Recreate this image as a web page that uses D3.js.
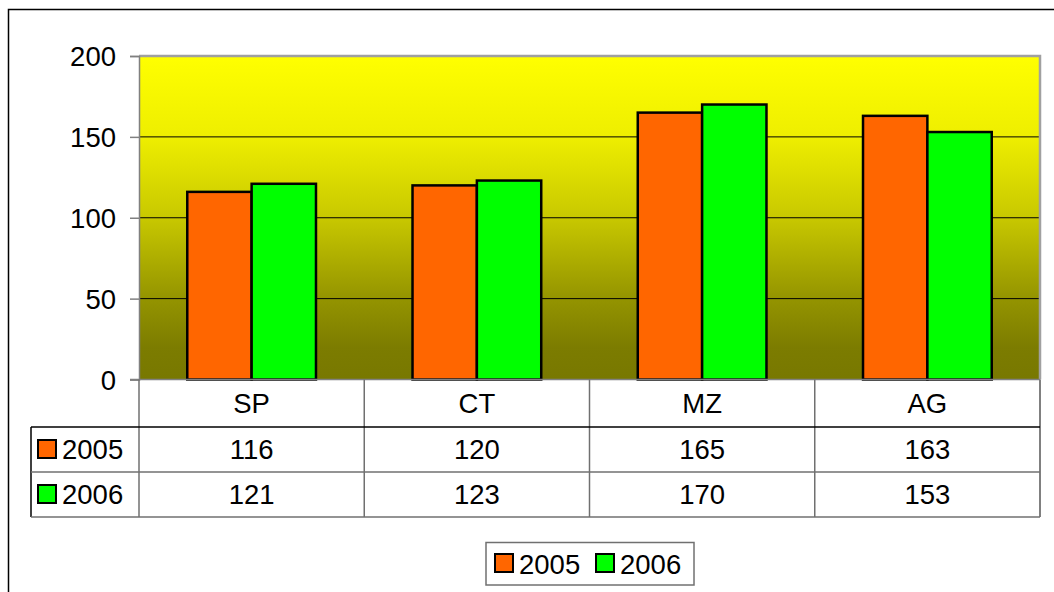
<!DOCTYPE html>
<html><head><meta charset="utf-8">
<script src="https://cdn.jsdelivr.net/npm/d3@7"></script>
<style>
html,body{margin:0;padding:0;background:#fff;overflow:hidden}
text{font-family:"Liberation Sans",Arial,sans-serif;fill:#000}
</style></head>
<body>
<svg id="chart" width="1054" height="592"></svg>
<script>
const categories = ["SP","CT","MZ","AG"];
const seriesNames = ["2005","2006"];
const values2005 = [116,120,165,163];
const values2006 = [121,123,170,153];
const yTicks = [0,50,100,150,200];
const colors = ["#ff6600","#00ff00"];

const FS = 27.5;
const svg = d3.select("#chart");
const W = 1054, H = 592;
const L = 139, R = 1040, T = 56, B = 379.5;

// outer frame
svg.append("rect").attr("x",8.5).attr("y",9.5).attr("width",W+20).attr("height",H+20)
  .attr("fill","#fff").attr("stroke","#000").attr("stroke-width",1.5);

const defs = svg.append("defs");
const grad = defs.append("linearGradient").attr("id","bg").attr("x1",0).attr("y1",0).attr("x2",0).attr("y2",1);
[[0,"#ffff00"],[0.25,"#eeee00"],[0.5,"#c8c800"],[0.75,"#949400"],[0.9,"#7c7c00"],[1,"#787800"]]
  .forEach(([o,c])=>grad.append("stop").attr("offset",o).attr("stop-color",c));

const x = d3.scaleBand().domain(categories).range([L,R]).padding(0);
const y = d3.scaleLinear().domain([0,200]).range([B,T]);

svg.append("rect").attr("x",L).attr("y",T).attr("width",R-L).attr("height",B-T).attr("fill","url(#bg)");

// gridlines
svg.append("g").selectAll("line").data(yTicks.filter(d=>d>0 && d<200)).join("line")
  .attr("x1",L).attr("x2",R).attr("y1",d=>y(d)).attr("y2",d=>y(d))
  .attr("stroke","#000").attr("stroke-width",1);

// plot border top/right
svg.append("path").attr("d",`M${L},${T}H${R}V${B}`).attr("fill","none").attr("stroke","#a0a0a0").attr("stroke-width",2.5);

// y axis
const yAxis = d3.axisLeft(y).tickValues(yTicks).tickSize(9).tickPadding(14);
const ga = svg.append("g").attr("transform",`translate(${L},0)`).call(yAxis);
ga.select(".domain").attr("stroke","#808080").attr("stroke-width",1.5);
ga.selectAll(".tick line").attr("stroke","#808080").attr("stroke-width",1.5);
ga.selectAll(".tick text").attr("font-size",FS).attr("font-family","Liberation Sans, Arial, sans-serif").attr("fill","#000").attr("dy","0.35em");

// bars
const data = [values2005, values2006];
const inner = d3.scaleBand().domain(seriesNames).range([0,x.bandwidth()]).paddingInner(0).paddingOuter(0.75);
const gb = svg.append("g");
categories.forEach((c,i)=>{
  seriesNames.forEach((s,j)=>{
    const v = data[j][i];
    gb.append("rect").attr("x",x(c)+inner(s)).attr("y",y(v))
      .attr("width",inner.bandwidth()).attr("height",y(0)-y(v))
      .attr("fill",colors[j]).attr("stroke","#000").attr("stroke-width",2.5);
  });
});

// baseline
svg.append("line").attr("x1",130).attr("x2",R).attr("y1",B).attr("y2",B).attr("stroke","#808080").attr("stroke-width",1.5);

// data table
const rowTops = [B, 427, 472, 517];
const TL = 31;
const gt = svg.append("g");
categories.forEach((c,i)=>{
  gt.append("line").attr("x1",x(c)).attr("x2",x(c)).attr("y1",B).attr("y2",rowTops[3])
    .attr("stroke","#707070").attr("stroke-width",1.5);
});
gt.append("line").attr("x1",R).attr("x2",R).attr("y1",B).attr("y2",rowTops[3]).attr("stroke","#808080").attr("stroke-width",2);
gt.append("line").attr("x1",TL).attr("x2",TL).attr("y1",rowTops[1]).attr("y2",rowTops[3]).attr("stroke","#000").attr("stroke-width",1.5);
gt.append("line").attr("x1",TL).attr("x2",R).attr("y1",rowTops[1]).attr("y2",rowTops[1]).attr("stroke","#000").attr("stroke-width",1.5);
gt.append("line").attr("x1",TL).attr("x2",R).attr("y1",rowTops[2]).attr("y2",rowTops[2]).attr("stroke","#707070").attr("stroke-width",1.5);
gt.append("line").attr("x1",TL).attr("x2",R).attr("y1",rowTops[3]).attr("y2",rowTops[3]).attr("stroke","#707070").attr("stroke-width",1.5);

categories.forEach(c=>{
  gt.append("text").attr("x",x(c)+x.bandwidth()/2).attr("y",(rowTops[0]+rowTops[1])/2).attr("dy","0.36em")
    .attr("text-anchor","middle").attr("font-size",FS).text(c);
});
seriesNames.forEach((s,j)=>{
  const cy = (rowTops[j+1]+rowTops[j+2])/2;
  gt.append("rect").attr("x",38).attr("y",cy-9.5).attr("width",18).attr("height",18)
    .attr("fill",colors[j]).attr("stroke","#000").attr("stroke-width",2);
  gt.append("text").attr("x",62).attr("y",cy).attr("dy","0.36em").attr("font-size",FS).text(s);
  categories.forEach((c,i)=>{
    gt.append("text").attr("x",x(c)+x.bandwidth()/2).attr("y",cy).attr("dy","0.36em")
      .attr("text-anchor","middle").attr("font-size",FS).text(data[j][i]);
  });
});

// legend
const lg = svg.append("g");
lg.append("rect").attr("x",486).attr("y",542.5).attr("width",208).attr("height",42.5)
  .attr("fill","#fff").attr("stroke","#707070").attr("stroke-width",1.5);
const lx = [495, 596];
seriesNames.forEach((s,j)=>{
  lg.append("rect").attr("x",lx[j]).attr("y",554).attr("width",18).attr("height",18)
    .attr("fill",colors[j]).attr("stroke","#000").attr("stroke-width",2);
  lg.append("text").attr("x",lx[j]+24).attr("y",564).attr("dy","0.36em").attr("font-size",FS).text(s);
});
</script>
</body></html>
